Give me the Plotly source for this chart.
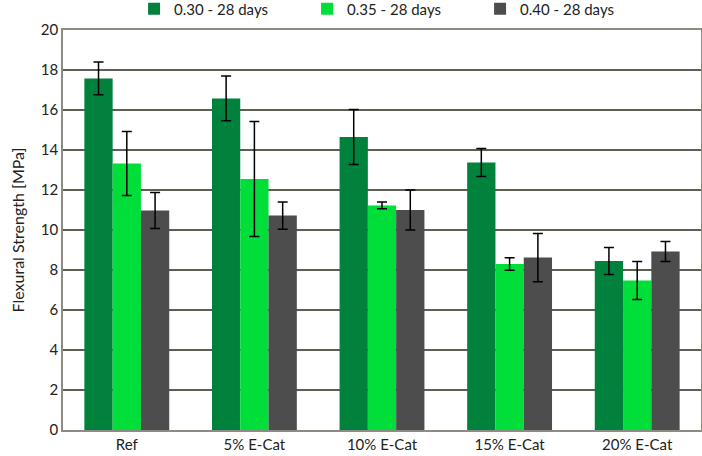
import plotly.graph_objects as go

categories = ["Ref", "5% E-Cat", "10% E-Cat", "15% E-Cat", "20% E-Cat"]
series_names = ["0.30 - 28 days", "0.35 - 28 days", "0.40 - 28 days"]
vals_030 = [17.58, 16.58, 14.65, 13.38, 8.45]
err_030 = [0.82, 1.12, 1.37, 0.70, 0.67]
vals_035 = [13.32, 12.55, 11.23, 8.30, 7.48]
err_035 = [1.60, 2.87, 0.17, 0.31, 0.95]
vals_040 = [10.97, 10.72, 11.00, 8.62, 8.93]
err_040 = [0.90, 0.68, 1.00, 1.21, 0.50]
colors = ["#00823D", "#00DE39", "#4D4D4D"]

fig = go.Figure()
for name, v, e, c in zip(series_names, [vals_030, vals_035, vals_040],
                         [err_030, err_035, err_040], colors):
    fig.add_trace(go.Bar(
        x=categories, y=v, name=name, marker_color=c,
        marker_line_width=0,
        error_y=dict(type="data", array=e, visible=True, color="black",
                     thickness=1.5, width=5),
    ))

font = "Lato, 'Open Sans', sans-serif"
fig.update_layout(
    width=702, height=456,
    margin=dict(l=63, r=1, t=30, b=26, autoexpand=False),
    barmode="group", bargap=0.335, bargroupgap=0,
    plot_bgcolor="white", paper_bgcolor="white",
    font=dict(family=font, size=15, color="#222"),
    legend=dict(orientation="h", x=0.1114, xanchor="left",
                y=1.0525, yanchor="middle",
                font=dict(size=15), itemwidth=30, traceorder="normal",
                entrywidth=128, entrywidthmode="pixels",
                bgcolor="rgba(0,0,0,0)", tracegroupgap=0),
    showlegend=True,
)
fig.update_yaxes(range=[0, 20], dtick=2, showgrid=True, gridcolor="#5E5E55",
                 gridwidth=1.5, showline=True, linecolor="#8C8C84", linewidth=1.5,
                 mirror=True, ticks="", zeroline=False,
                 title=dict(text="Flexural Strength [MPa]", font=dict(size=16), standoff=12),
                 tickfont=dict(size=15))
fig.update_xaxes(showline=True, linecolor="#8C8C84", linewidth=1.5, mirror=True,
                 ticks="", tickfont=dict(size=15))

fig.write_html("out.html")
